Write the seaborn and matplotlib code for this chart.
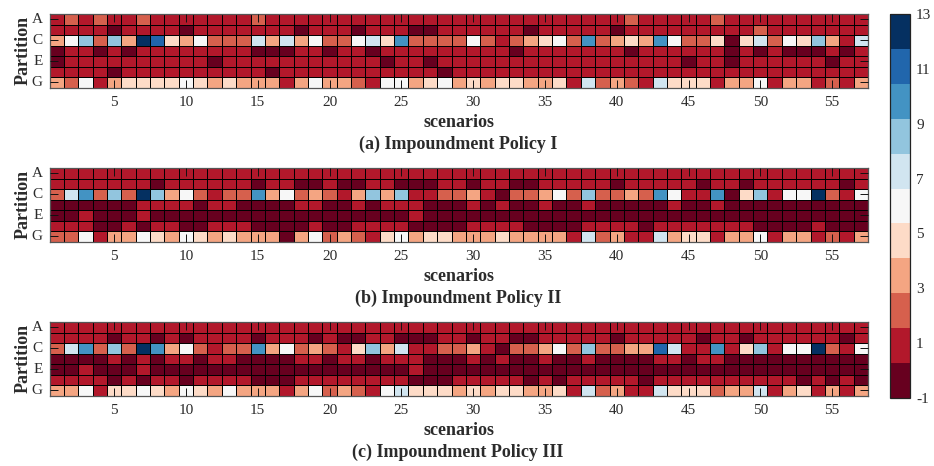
import numpy as np
import matplotlib
matplotlib.use("Agg")
import matplotlib.pyplot as plt
from matplotlib.colors import ListedColormap
import seaborn as sns

sns.set_theme(style="white")
plt.rcParams['font.family'] = ['Liberation Serif', 'DejaVu Serif']
plt.rcParams['axes.unicode_minus'] = False

row_tick_labels = ["A", "C", "E", "G"]
x_tick_labels = [5, 10, 15, 20, 25, 30, 35, 40, 45, 50, 55]
cbar_ticks = [-1, 1, 3, 5, 7, 9, 11, 13]
captions = ["(a) Impoundment Policy I", "(b) Impoundment Policy II", "(c) Impoundment Policy III"]
palette = ["#67001f", "#b2182b", "#d6604d", "#f4a582", "#fddbc7", "#f7f7f7",
           "#d1e5f0", "#92c5de", "#4393c3", "#2166ac", "#053061"]

policy_1 = [
 [1,2,1,2,1,1,2,1,1,1, 1,1,1,1,2,1,1,1,1,1, 1,1,1,1,1,1,1,1,1,1, 1,1,1,1,1,1,1,1,1,1, 2,1,1,1,1,1,2,1,1,1, 1,1,1,1,1,1,1],
 [1,1,1,1,0,1,1,1,1,0, 1,1,1,1,1,1,1,0,1,1, 1,0,1,1,1,0,0,1,1,1, 1,1,1,0,1,1,1,1,1,0, 1,1,1,1,1,1,1,1,1,2, 1,1,1,1,1,1,1],
 [3,6,9,2,9,3,12,11,5,3, 6,2,2,2,7,3,7,3,6,2, 2,6,7,5,10,2,2,2,2,6, 2,1,2,3,5,6,2,10,2,3, 5,3,10,6,2,2,5,0,5,7, 2,6,5,9,3,1,7],
 [0,1,1,0,1,0,1,1,1,1, 1,1,1,1,0,0,0,1,1,0, 1,1,0,1,1,1,1,1,1,1, 1,1,0,1,1,1,1,1,1,1, 0,1,1,1,1,1,1,0,1,0, 1,0,0,0,1,0,1],
 [0,1,1,1,1,1,1,1,1,1, 1,0,1,1,1,1,1,1,1,1, 1,1,1,0,1,1,0,1,1,1, 1,1,1,1,1,1,1,1,1,1, 1,1,1,1,0,1,1,0,1,1, 1,1,1,1,0,1,1],
 [1,1,1,1,0,1,1,1,1,1, 1,1,1,1,1,0,1,1,1,1, 1,1,1,1,1,1,1,0,1,1, 1,1,1,1,1,1,1,1,1,1, 1,1,1,1,1,1,1,1,1,1, 1,1,1,1,1,1,1],
 [3,2,6,1,3,5,5,5,5,6, 5,3,5,3,3,3,1,3,6,3, 3,2,1,6,6,3,5,6,3,5, 3,5,5,3,3,5,1,7,2,3, 2,1,7,5,5,5,1,3,3,6, 1,3,3,1,2,1,3],
]
policy_2 = [
 [1,1,1,1,1,1,1,1,1,1, 1,1,1,1,1,1,1,1,1,1, 1,1,1,1,1,1,1,1,1,1, 1,1,1,1,1,1,1,1,1,1, 1,1,1,1,1,1,1,1,1,1, 1,1,1,1,1,1,1],
 [1,1,1,1,1,1,1,0,1,1, 1,1,1,1,0,1,1,0,0,1, 0,0,1,1,0,0,0,1,1,0, 1,1,0,0,1,1,1,1,1,0, 1,1,1,1,1,0,1,1,0,1, 1,1,1,1,1,0,1],
 [2,7,10,2,9,2,12,9,3,6, 2,1,2,2,10,3,6,2,3,2, 1,3,9,3,9,1,1,2,2,3, 1,0,2,2,3,6,2,9,2,2, 3,2,10,6,1,1,10,0,5,9, 1,6,6,12,2,1,6],
 [0,0,0,0,0,0,1,1,1,1, 0,1,1,0,0,0,0,1,1,0, 0,1,0,1,1,1,0,0,0,1, 0,1,0,0,1,0,0,1,0,0, 0,0,0,1,0,0,1,0,0,0, 0,0,0,0,0,0,0],
 [0,0,1,0,0,0,1,0,0,0, 0,0,0,0,0,0,0,0,0,0, 0,0,0,0,0,1,0,0,0,0, 0,0,0,0,0,0,0,0,0,0, 0,0,0,0,0,0,0,0,0,0, 0,0,0,0,0,0,0],
 [1,1,1,0,0,1,0,1,1,0, 0,1,1,1,0,0,0,0,1,0, 0,1,1,1,1,0,0,0,0,1, 1,1,1,0,0,0,0,1,1,1, 1,0,1,1,1,1,1,1,1,0, 0,0,0,1,0,0,0],
 [2,2,6,1,3,3,6,5,3,6, 5,3,5,3,3,3,0,3,6,2, 3,2,1,5,6,3,5,5,3,3, 3,5,3,3,3,3,1,7,2,3, 1,1,7,3,5,5,1,3,3,6, 1,3,3,1,2,1,3],
]
policy_3 = [
 [1,1,1,1,1,1,1,1,1,1, 1,1,1,1,1,1,1,1,1,1, 1,1,1,1,1,1,1,1,1,1, 1,1,1,1,1,1,1,1,1,1, 1,1,1,1,1,1,1,1,1,1, 1,1,1,1,1,1,1],
 [1,1,1,1,0,1,1,0,1,0, 1,1,1,1,0,1,1,1,0,1, 0,0,1,1,0,0,0,1,1,0, 1,1,0,0,1,1,1,1,1,0, 1,1,1,1,1,0,1,1,0,1, 1,1,1,1,1,0,1],
 [2,7,10,2,9,2,12,10,3,6, 2,1,2,2,10,3,6,2,3,2, 1,5,9,3,7,1,1,2,2,3, 1,0,2,2,3,6,2,9,2,2, 3,3,11,7,1,1,10,1,5,9, 1,6,6,12,2,1,6],
 [0,0,0,0,1,0,1,0,1,1, 0,1,1,0,0,0,0,1,1,0, 1,1,0,1,1,1,0,0,0,1, 0,1,0,0,1,0,0,1,0,0, 0,0,1,1,0,1,1,0,0,0, 0,0,0,0,0,0,0],
 [0,0,1,0,0,0,1,0,0,0, 0,0,0,0,0,0,0,0,0,0, 0,0,0,0,0,1,0,0,0,0, 0,0,0,0,0,0,0,0,0,0, 0,0,0,0,0,0,0,0,0,0, 0,0,0,0,0,0,0],
 [1,1,1,1,0,1,0,1,1,0, 1,1,1,1,0,0,0,1,1,1, 1,1,1,1,1,0,0,0,1,1, 1,1,1,0,1,0,1,1,1,1, 1,0,1,1,1,1,1,1,1,1, 1,1,0,1,0,1,0],
 [3,3,6,1,5,5,6,5,3,6, 5,3,6,3,3,3,1,3,6,2, 3,2,1,6,7,5,5,5,3,5, 3,5,5,3,3,5,1,7,2,3, 1,1,7,5,5,5,2,3,3,7, 1,3,5,1,3,1,3],
]
panels = [policy_1, policy_2, policy_3]

W, H = 934, 466
fig = plt.figure(figsize=(W / 100, H / 100), dpi=100)
cmap = ListedColormap(palette)
INK = "#2b2b2b"
tops = [14, 168, 322]
ph = 73.5
cax = fig.add_axes([890 / W, 1 - 398 / H, 20.5 / W, 384 / H])

cb = None
for i, (vals, cap, top) in enumerate(zip(panels, captions, tops)):
    ax = fig.add_axes([49.5 / W, 1 - (top + ph) / H, 818.5 / W, ph / H])
    data = np.array(vals)
    sns.heatmap(data, ax=ax, cmap=cmap, vmin=-1, vmax=13, linewidths=0.7, linecolor="#000000",
                cbar=i == 0, cbar_ax=cax if i == 0 else None,
                cbar_kws={"ticks": cbar_ticks}, square=False)
    if i == 0:
        cb = ax.collections[0].colorbar
    ax.set_axisbelow(False)
    ax.set_xticks(np.array(x_tick_labels) - 0.5)
    ax.set_xticklabels(x_tick_labels, rotation=0)
    ax.set_yticks([0.5, 2.5, 4.5, 6.5])
    ax.set_yticklabels(row_tick_labels, rotation=0)
    ax.tick_params(axis="both", which="major", direction="in", length=5.5, width=0.7, color="#111111",
                   top=True, right=True, bottom=True, left=True, labelsize=11, labelcolor=INK)
    ax.tick_params(axis="x", pad=6)
    ax.tick_params(axis="y", pad=5)
    for s in ax.spines.values():
        s.set_visible(True)
        s.set_color("#555555")
        s.set_linewidth(0.9)
    ax.set_ylabel("Partition", fontsize=13, fontweight="bold", color=INK, labelpad=0)
    ax.set_xlabel("scenarios", fontsize=13, fontweight="bold", color=INK, labelpad=4)
    fig.text(458 / W, 1 - (top + 130) / H, cap, ha="center", va="center",
             fontsize=13, fontweight="bold", color=INK)

cb.ax.tick_params(length=0, labelsize=11, labelcolor=INK, pad=4)
cb.outline.set_visible(True)
cb.outline.set_edgecolor("#222222")
cb.outline.set_linewidth(0.9)

fig.savefig("out.png", dpi=100)
